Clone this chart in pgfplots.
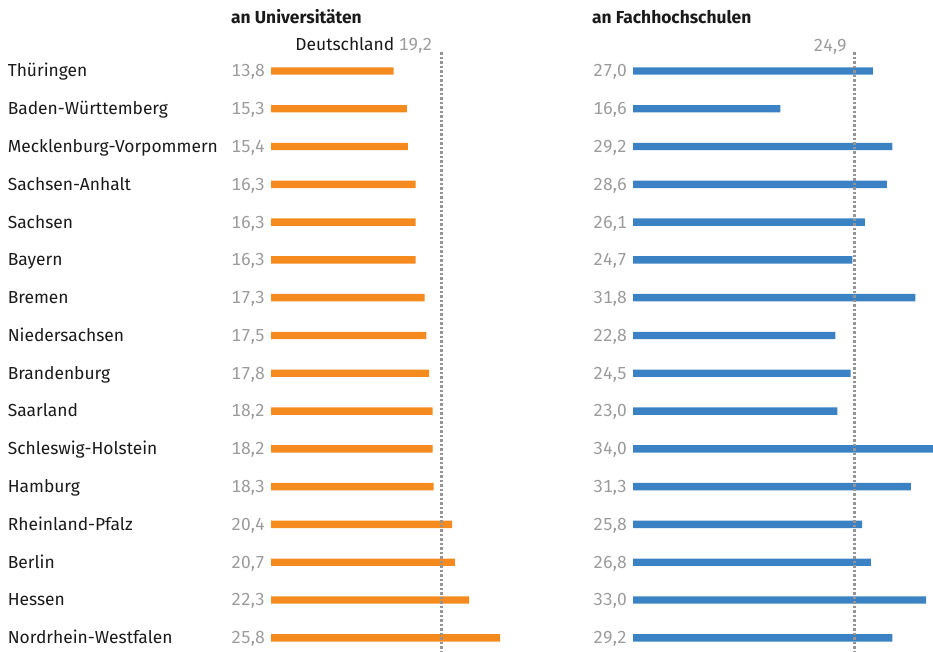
\documentclass[border=0pt]{standalone}
\usepackage{fontspec}
\setmainfont{Fira Sans}[Numbers=Monospaced]
\usepackage{pgfplots}
\usepackage{pgfplotstable}
\pgfplotsset{compat=1.18}
\definecolor{uorange}{HTML}{F58A1F}
\definecolor{fblue}{HTML}{3B82C4}
\definecolor{vgray}{HTML}{9B9B9B}
\definecolor{lgray}{HTML}{949494}
\definecolor{txt}{HTML}{1A1A1A}

\pgfplotstableread{
idx uni fh
0 13.8 27.0
1 15.3 16.6
2 15.4 29.2
3 16.3 28.6
4 16.3 26.1
5 16.3 24.7
6 17.3 31.8
7 17.5 22.8
8 17.8 24.5
9 18.2 23.0
10 18.2 34.0
11 18.3 31.3
12 20.4 25.8
13 20.7 26.8
14 22.3 33.0
15 25.8 29.2
}\data

\newcommand{\lab}[2]{\makebox[257pt]{\color{txt}#1\hfill\textcolor{vgray}{#2}}}
\newcommand{\fs}{\fontsize{17.4}{17.4}\selectfont}

\begin{document}
\begin{tikzpicture}[x=1pt,y=1pt]
\useasboundingbox (0pt,0pt) rectangle (933pt,652pt);
\pgfplotsset{
 panel/.style={scale only axis, width=301.92pt, height=604.64pt,
   xmin=0, xmax=34, ymin=-0.5, ymax=15.5, y dir=reverse,
   axis line style={draw=none}, xtick=\empty, ytick={0,...,15},
   major tick length=0pt,
   yticklabel style={anchor=base east, inner sep=0pt, xshift=-6pt, yshift=-5.9pt,
     font=\fs},
   bar width=7.4pt, clip=false, anchor=south west},
}
\begin{axis}[panel, at={(271pt,-4.7pt)},
  yticklabels={
   {\lab{Thüringen}{13,8}},
   {\lab{Baden-Württemberg}{15,3}},
   {\lab{Mecklenburg-Vorpommern}{15,4}},
   {\lab{Sachsen-Anhalt}{16,3}},
   {\lab{Sachsen}{16,3}},
   {\lab{Bayern}{16,3}},
   {\lab{Bremen}{17,3}},
   {\lab{Niedersachsen}{17,5}},
   {\lab{Brandenburg}{17,8}},
   {\lab{Saarland}{18,2}},
   {\lab{Schleswig-Holstein}{18,2}},
   {\lab{Hamburg}{18,3}},
   {\lab{Rheinland-Pfalz}{20,4}},
   {\lab{Berlin}{20,7}},
   {\lab{Hessen}{22,3}},
   {\lab{Nordrhein-Westfalen}{25,8}}}]
\addplot[xbar, fill=uorange, draw=none] table[x=uni, y=idx] {\data};
\addplot[lgray, line width=3pt, dash pattern=on 2.5pt off 2pt] coordinates {(19.2,-0.5) (19.2,15.6)};
\node[anchor=base east, inner sep=0pt, xshift=-9pt, yshift=2pt, font=\fs] at (axis cs:19.2,-0.5) {\color{txt}Deutschland \textcolor{vgray}{19,2}};
\end{axis}
\begin{axis}[panel, at={(633pt,-4.7pt)},
  yticklabels={{27,0},{16,6},{29,2},{28,6},{26,1},{24,7},{31,8},{22,8},{24,5},{23,0},{34,0},{31,3},{25,8},{26,8},{33,0},{29,2}},
  yticklabel style={color=vgray}]
\addplot[xbar, fill=fblue, draw=none] table[x=fh, y=idx] {\data};
\addplot[lgray, line width=3pt, dash pattern=on 2.5pt off 2pt] coordinates {(24.9,-0.5) (24.9,15.6)};
\node[anchor=base east, inner sep=0pt, xshift=-7pt, yshift=1pt, font=\fs, color=vgray] at (axis cs:24.9,-0.5) {24,9};
\end{axis}
\node[anchor=base west, inner sep=0pt, font=\fs\bfseries, color=txt] at (231pt,628pt) {an Universitäten};
\node[anchor=base west, inner sep=0pt, font=\fs\bfseries, color=txt] at (592pt,628pt) {an Fachhochschulen};
\end{tikzpicture}
\end{document}
